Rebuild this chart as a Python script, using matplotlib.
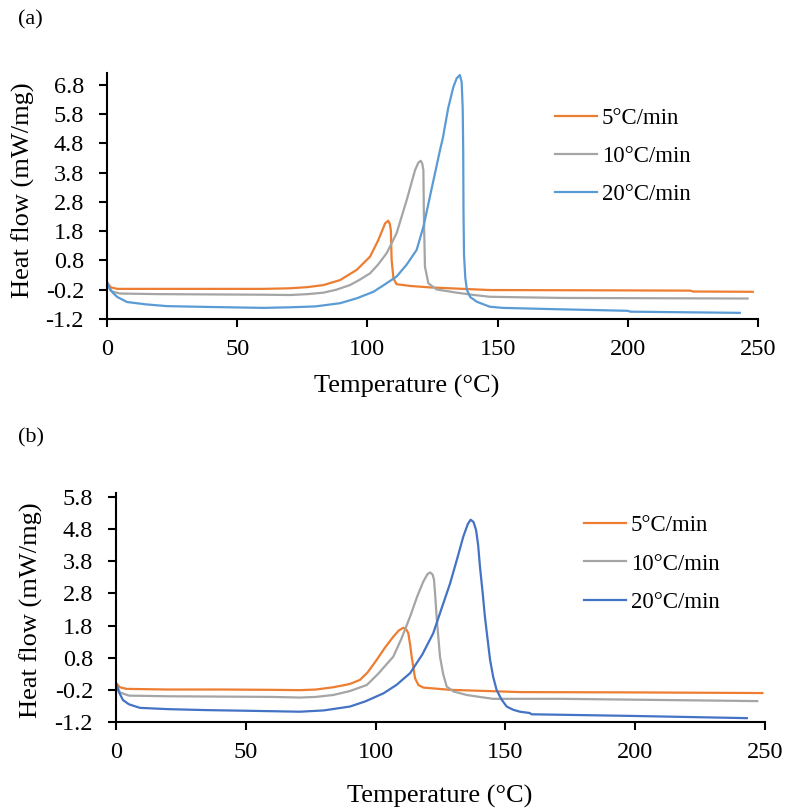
import matplotlib
matplotlib.use("Agg")
import matplotlib.pyplot as plt

plt.rcParams['font.family'] = ['Liberation Serif', 'DejaVu Serif']

labels = ["5°C/min", "10°C/min", "20°C/min"]
colors_a = ["#ED7D31", "#A5A5A5", "#5B9BD5"]
colors_b = ["#ED7D31", "#A5A5A5", "#4472C4"]

# Panel (a)
a5_x = [0, 1.5, 4, 20, 40, 60, 70.3, 77, 83.1, 89.5, 95.9, 101, 104.2, 106.8, 108, 108.6, 109, 109.3, 110, 111.2, 116.4, 124, 147, 190, 224, 225, 248]
a5_y = [0.05, -0.12, -0.17, -0.17, -0.17, -0.17, -0.15, -0.11, -0.04, 0.13, 0.48, 0.93, 1.50, 2.07, 2.16, 2.05, 1.84, 0.82, 0.19, -0.01, -0.07, -0.12, -0.21, -0.22, -0.23, -0.26, -0.27]
a10_x = [0, 1.5, 5, 20, 40, 60, 70.3, 77, 83.1, 88, 93.3, 97, 101, 104, 107.4, 111.2, 115.1, 118.3, 119.6, 120.5, 121.1, 121.5, 121.7, 122.1, 123.4, 126.6, 134.3, 140, 147, 160, 175, 246]
a10_y = [0.05, -0.25, -0.33, -0.35, -0.36, -0.37, -0.38, -0.35, -0.30, -0.20, -0.04, 0.14, 0.36, 0.65, 1.05, 1.73, 2.87, 3.89, 4.15, 4.21, 4.10, 3.89, 2.30, 0.59, 0.02, -0.19, -0.30, -0.37, -0.44, -0.46, -0.48, -0.50]
a20_x = [0, 1, 2.3, 4, 7.7, 15, 23, 40, 60, 70.3, 80, 89.5, 96, 102.3, 107, 111.2, 115, 118.9, 121.5, 124, 126, 127.9, 129, 131, 133, 134.3, 135.5, 136.2, 136.6, 136.8, 136.9, 137.1, 137.6, 138.2, 139.5, 142, 147, 152, 170, 200, 201, 243]
a20_y = [0.05, -0.15, -0.31, -0.45, -0.62, -0.70, -0.76, -0.79, -0.82, -0.80, -0.77, -0.66, -0.49, -0.27, 0.0, 0.25, 0.65, 1.16, 1.95, 2.98, 3.8, 4.58, 5.0, 6.0, 6.73, 7.03, 7.14, 6.9, 6.0, 4.5, 2.5, 1.0, 0.2, -0.2, -0.45, -0.61, -0.78, -0.82, -0.86, -0.92, -0.95, -0.99]

# Panel (b)
b5_x = [0, 1.5, 4, 20, 40, 60, 70.9, 77, 83.7, 90, 94, 97, 100.4, 103.5, 106.8, 109, 110.7, 111.8, 112.6, 113.3, 113.9, 115.2, 116.5, 118.4, 128.7, 155.6, 200, 249]
b5_y = [0.01, -0.12, -0.17, -0.19, -0.19, -0.20, -0.21, -0.19, -0.12, -0.02, 0.11, 0.35, 0.73, 1.10, 1.45, 1.65, 1.73, 1.68, 1.56, 1.20, 0.83, 0.16, -0.05, -0.13, -0.20, -0.27, -0.28, -0.30]
b10_x = [0, 1.5, 5, 20, 40, 60, 70.9, 77, 83.7, 90, 96.6, 101, 106.8, 110, 113.3, 116, 118.4, 120, 121, 122, 122.5, 123, 123.5, 124.8, 126, 127.4, 130, 135.1, 140, 145.3, 172, 247]
b10_y = [0.01, -0.28, -0.38, -0.40, -0.41, -0.42, -0.44, -0.42, -0.36, -0.24, -0.05, 0.30, 0.83, 1.40, 2.08, 2.70, 3.17, 3.40, 3.45, 3.38, 3.22, 2.70, 2.08, 0.83, 0.30, -0.10, -0.25, -0.36, -0.42, -0.48, -0.48, -0.55]
b20_x = [0, 1, 2.7, 5, 9.2, 20, 34.6, 50, 70.9, 80, 90.1, 96, 103, 108, 113.3, 118, 122.2, 125.5, 128.7, 131.5, 133.8, 135.5, 136.6, 137.7, 138.7, 139.5, 140.2, 141.2, 142.1, 143.1, 144.1, 145.3, 146.6, 148.5, 150.5, 153, 155.6, 159.4, 160, 198, 243]
b20_y = [0.01, -0.25, -0.52, -0.65, -0.76, -0.80, -0.83, -0.85, -0.88, -0.84, -0.72, -0.56, -0.31, -0.05, 0.32, 0.90, 1.56, 2.35, 3.11, 3.90, 4.57, 4.95, 5.09, 5.02, 4.77, 4.30, 3.63, 2.85, 2.08, 1.40, 0.73, 0.20, -0.20, -0.50, -0.72, -0.82, -0.88, -0.92, -0.96, -1.01, -1.08]

x_ticks = [0, 50, 100, 150, 200, 250]
yticks_a = [-1.2, -0.2, 0.8, 1.8, 2.8, 3.8, 4.8, 5.8, 6.8]
yticks_b = [-1.2, -0.2, 0.8, 1.8, 2.8, 3.8, 4.8, 5.8]

W, H = 787, 808
fig = plt.figure(figsize=(W / 100, H / 100), dpi=100)

def px_axes(l, t, r, b):
    return fig.add_axes([l / W, 1 - b / H, (r - l) / W, (b - t) / H])

ax_a = px_axes(107, 73, 758, 319)
ax_b = px_axes(116, 493, 765, 722)

def style(ax, yticks, ylim):
    ax.set_xlim(0, 250)
    ax.set_ylim(*ylim)
    ax.set_xticks(x_ticks)
    ax.set_yticks(yticks)
    ax.set_xticklabels([str(v) for v in x_ticks])
    ax.set_yticklabels([f"{v:.1f}" for v in yticks])
    for s in ["top", "right"]:
        ax.spines[s].set_visible(False)
    for s in ["left", "bottom"]:
        ax.spines[s].set_linewidth(1.5)
        ax.spines[s].set_color("black")
    ax.tick_params(direction="out", length=5.5, width=1.5, labelsize=17.5, colors="black")
    ax.tick_params(axis="x", pad=9)
    ax.tick_params(axis="y", pad=11)

series_a = [(a5_x, a5_y), (a10_x, a10_y), (a20_x, a20_y)]
series_b = [(b5_x, b5_y), (b10_x, b10_y), (b20_x, b20_y)]

for (xs, ys), c, lab in zip(series_a, colors_a, labels):
    ax_a.plot(xs, ys, color=c, lw=1.6, label=lab)
for (xs, ys), c, lab in zip(series_b, colors_b, labels):
    ax_b.plot(xs, ys, color=c, lw=1.6, label=lab)

style(ax_a, yticks_a, (-1.2, 7.21))
style(ax_b, yticks_b, (-1.2, 5.92))

leg_kw = dict(frameon=False, fontsize=16.5, handlelength=1.85, handletextpad=0.2,
              labelspacing=0.75, borderpad=0, borderaxespad=0, loc="center left")
ax_a.legend(bbox_to_anchor=(0.688, 0.66), **leg_kw)
ax_b.legend(bbox_to_anchor=(0.721, 0.69), **leg_kw)

fig.text(407 / W, 1 - 386 / H, "Temperature (°C)", ha="center", va="center", fontsize=19)
fig.text(440 / W, 1 - 796 / H, "Temperature (°C)", ha="center", va="center", fontsize=19)
fig.text(23 / W, 1 - 190 / H, "Heat flow (mW/mg)", ha="center", va="center", rotation=90, fontsize=19)
fig.text(31 / W, 1 - 610 / H, "Heat flow (mW/mg)", ha="center", va="center", rotation=90, fontsize=19)
fig.text(18 / W, 1 - 20 / H, "(a)", ha="left", va="center", fontsize=16)
fig.text(18 / W, 1 - 438 / H, "(b)", ha="left", va="center", fontsize=16)

fig.savefig("out.png", dpi=100)
